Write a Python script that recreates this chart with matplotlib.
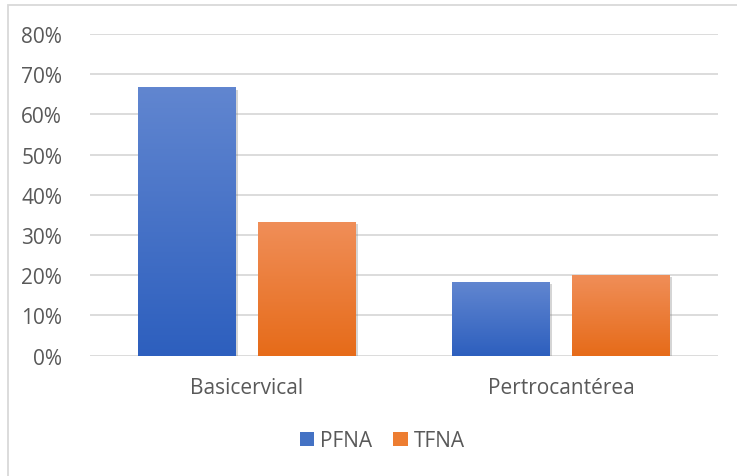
import matplotlib.pyplot as plt
import matplotlib.patheffects as pe
from matplotlib.colors import LinearSegmentedColormap
from matplotlib.patches import Patch, Rectangle
from matplotlib.ticker import PercentFormatter
import numpy as np

plt.rcParams['font.family'] = ['Open Sans', 'DejaVu Sans']

categories = ['Basicervical', 'Pertrocantérea']
series = ['PFNA', 'TFNA']
pfna = [0.667, 0.184]
tfna = [0.333, 0.201]

# top / bottom colours of each series' gradient
grad = {
    'PFNA': ('#6186d0', '#2d5fbe'),
    'TFNA': ('#f08e58', '#e66b19'),
}
solid = {'PFNA': '#4472c4', 'TFNA': '#ed7d31'}

fig = plt.figure(figsize=(7.37, 4.77), dpi=100)
ax = fig.add_axes([0.1221, 0.2522, 0.8521, 0.6744])

# light frame around the chart area
fig.add_artist(Rectangle((8 / 737, -0.1), 1.2, 1 - 5.5 / 477 + 0.1,
                         transform=fig.transFigure, fill=False,
                         edgecolor='#d9d9d9', linewidth=1.3))

x = np.arange(len(categories))
width = 0.312
offset = 0.191
grad_img = np.linspace(1, 0, 256).reshape(-1, 1)

for vals, name, dx in [(pfna, 'PFNA', -offset), (tfna, 'TFNA', offset)]:
    cmap = LinearSegmentedColormap.from_list(name, [grad[name][1], grad[name][0]])
    bars = ax.bar(x + dx, vals, width, color=solid[name], zorder=3)
    for b in bars:
        b.set_path_effects([pe.SimplePatchShadow(offset=(1.5, -1.5), shadow_rgbFace='#888888', alpha=0.35),
                            pe.Normal()])
        bx, by = b.get_x(), b.get_y()
        im = ax.imshow(grad_img, cmap=cmap, aspect='auto', zorder=4,
                       extent=(bx, bx + b.get_width(), by, by + b.get_height()))
        im.set_clip_path(b)

ax.set_xlim(-0.5, 1.5)
ax.set_ylim(0, 0.8)
ax.set_yticks(np.arange(0, 0.81, 0.1))
ax.yaxis.set_major_formatter(PercentFormatter(1.0, decimals=0))
ax.set_xticks(x)
ax.set_xticklabels(categories)
ax.grid(axis='y', color='#d9d9d9', linewidth=1.3, zorder=0)
for s in ax.spines.values():
    s.set_visible(False)
ax.tick_params(length=0, labelsize=15, labelcolor='#595959')
ax.tick_params(axis='y', pad=20)
ax.tick_params(axis='x', pad=15)

handles = [Patch(facecolor=solid[s], label=s) for s in series]
fig.legend(handles=handles, loc='center', bbox_to_anchor=(0.519, 0.0734),
           ncol=2, frameon=False, fontsize=15, labelcolor='#595959',
           handlelength=0.7, handleheight=0.7, handletextpad=0.3,
           columnspacing=1.0)

fig.savefig('out.png', dpi=100)
